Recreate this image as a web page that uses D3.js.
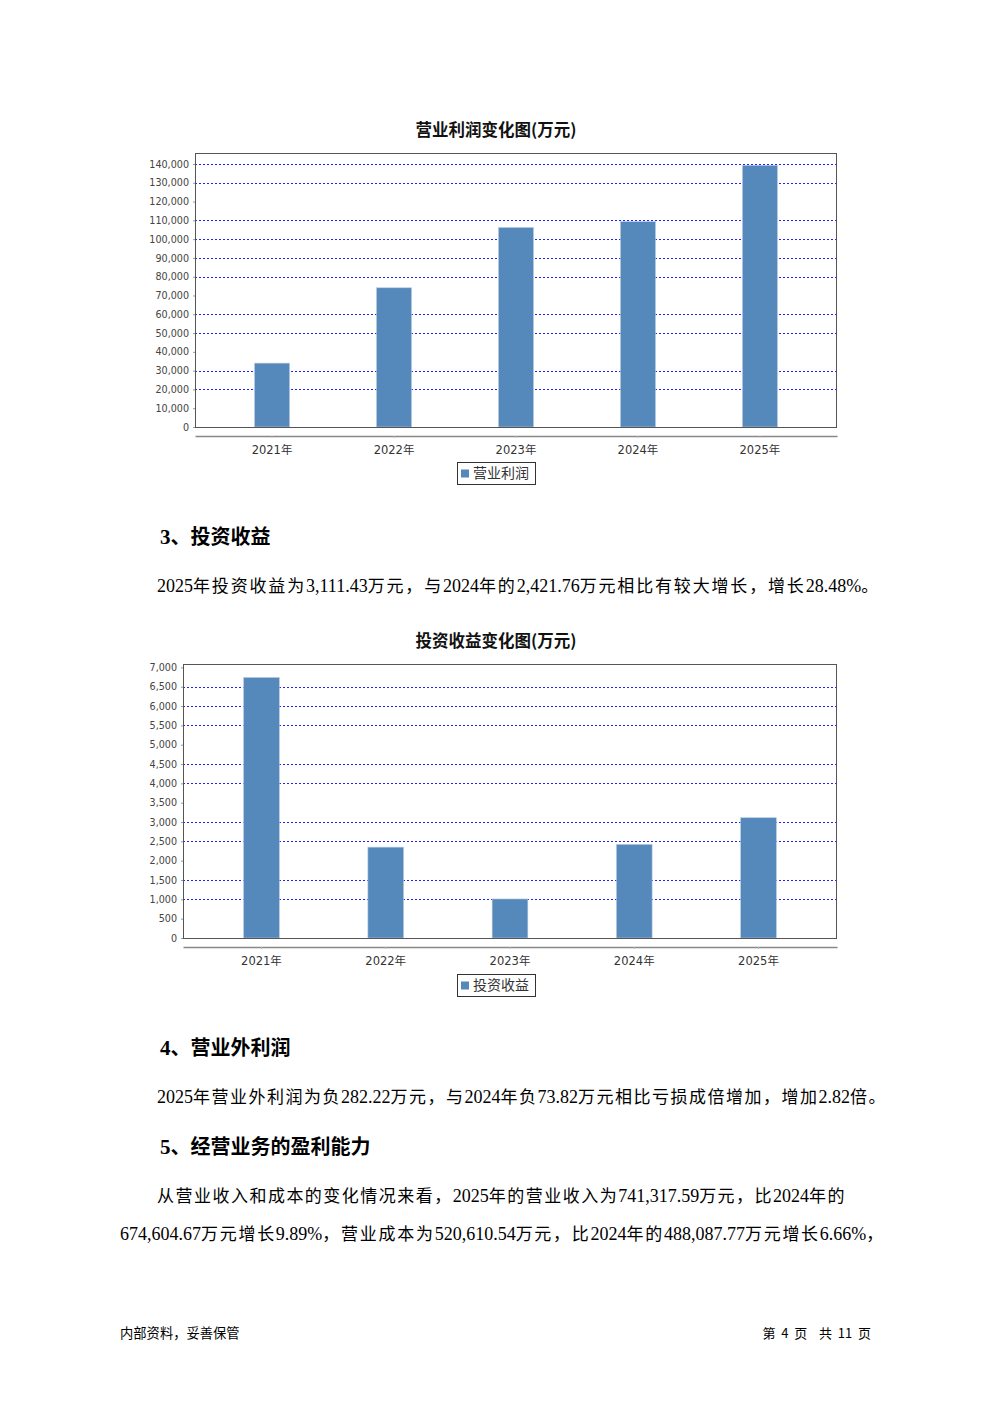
<!DOCTYPE html>
<html><head><meta charset="utf-8">
<script src="https://cdn.jsdelivr.net/npm/d3@7"></script>
<style>
html,body{margin:0;padding:0;background:#fff;}
svg{display:block;}
</style></head>
<body>
<script>
// ---- data ----
const years = ["2021年","2022年","2023年","2024年","2025年"];
const opProfit = [34000, 74100, 106200, 109300, 139300];
const opProfitTicks = d3.range(0, 140001, 10000);
const opProfitGrid = [20000,30000,50000,60000,80000,90000,100000,110000,130000,140000];
const invIncome = [6740, 2350, 1010, 2421.76, 3111.43];
const invIncomeTicks = d3.range(0, 7001, 500);
const invIncomeGrid = [1000,1500,2500,3000,4000,4500,5500,6000,6500];

const W = 992, H = 1403;
const svg = d3.select("body").append("svg").attr("width", W).attr("height", H);
svg.append("rect").attr("width", W).attr("height", H).attr("fill", "#fff");

const CJK = "'Noto Sans CJK SC', sans-serif";
const SERIF = "'Liberation Serif', serif";

function barChart(cfg) {
  const {title, titleY, left, right, top, bottom, axisMax, values, ticks, grid, axisLineY, legend, legendBox} = cfg;
  const g = svg.append("g");
  g.append("text").attr("x", 496).attr("y", titleY).attr("text-anchor", "middle")
    .attr("font-family", CJK).attr("font-weight", "bold").attr("font-size", 16.5).attr("fill", "#111").text(title);

  const y = d3.scaleLinear().domain([0, axisMax]).range([bottom, top]);
  const x = d3.scaleBand().domain(years).range([left, right]).paddingInner(0.7126).paddingOuter(0.488);

  g.selectAll(".grid").data(grid).join("line")
    .attr("x1", left).attr("x2", right)
    .attr("y1", d => Math.round(y(d)) + 0.5).attr("y2", d => Math.round(y(d)) + 0.5)
    .attr("stroke", "#2020ff").attr("stroke-width", 1).attr("stroke-dasharray", "2,2");

  g.selectAll(".bar").data(values).join("rect")
    .attr("x", (d, i) => x(years[i])).attr("width", x.bandwidth())
    .attr("y", d => y(d)).attr("height", d => bottom - y(d))
    .attr("fill", "#5588bb").attr("stroke", "#b9cbe0").attr("stroke-width", 0.6);

  g.append("rect").attr("x", left + 0.5).attr("y", top + 0.5).attr("width", right - left - 1).attr("height", bottom - top)
    .attr("fill", "none").attr("stroke", "#555").attr("stroke-width", 1);

  const ya = d3.axisLeft(y).tickValues(ticks).tickFormat(d3.format(",")).tickSize(2).tickPadding(4);
  const yg = g.append("g").attr("transform", `translate(${left},0)`).call(ya);
  yg.select(".domain").remove();
  yg.selectAll("line").attr("stroke", "#999");
  yg.selectAll("text").attr("font-family", "'DejaVu Sans', sans-serif").attr("font-size", 9.6).attr("fill", "#444");

  const xa = d3.axisBottom(x).tickSize(2).tickSizeOuter(0).tickPadding(8);
  const xg = g.append("g").attr("transform", `translate(0,${axisLineY})`).call(xa);
  xg.select(".domain").attr("stroke", "#888").attr("stroke-width", 1.5);
  xg.selectAll("line").attr("stroke", "#bbb");
  xg.selectAll("text").attr("font-family", "'DejaVu Sans', " + CJK).attr("font-size", 11.5).attr("fill", "#333");

  const lg = g.append("g");
  lg.append("rect").attr("x", legendBox[0] + 0.5).attr("y", legendBox[1] + 0.5).attr("width", legendBox[2]).attr("height", legendBox[3])
    .attr("fill", "#fff").attr("stroke", "#333").attr("stroke-width", 1);
  lg.append("rect").attr("x", legendBox[0] + 4).attr("y", legendBox[1] + legendBox[3] / 2 - 3.5).attr("width", 8).attr("height", 8).attr("fill", "#5588bb");
  lg.append("text").attr("x", legendBox[0] + 16).attr("y", legendBox[1] + legendBox[3] / 2 + 5)
    .attr("font-family", CJK).attr("font-size", 14).attr("fill", "#333").text(legend);
}

barChart({
  title: "营业利润变化图(万元)", titleY: 136,
  left: 195, right: 837, top: 153, bottom: 427, axisMax: 145850,
  values: opProfit, ticks: opProfitTicks, grid: opProfitGrid,
  axisLineY: 436, legend: "营业利润", legendBox: [457, 462, 78, 22]
});
barChart({
  title: "投资收益变化图(万元)", titleY: 647,
  left: 183, right: 837, top: 664, bottom: 938, axisMax: 7088,
  values: invIncome, ticks: invIncomeTicks, grid: invIncomeGrid,
  axisLineY: 947, legend: "投资收益", legendBox: [457, 974, 78, 22]
});

// ---- text blocks ----
const cjkRe = /([\u3000-\u303f\u4e00-\u9fff\uff00-\uffef]+)/;
function richLine(t, x, yy, opts) {
  const {width, bold, cjkSize, latSize, anchor} = opts;
  const el = svg.append("text").attr("x", x).attr("y", yy).attr("fill", "#000")
    .attr("font-weight", bold ? "bold" : "normal");
  if (anchor) el.attr("text-anchor", anchor);
  const parts = t.split(cjkRe).filter(s => s.length);
  let nCjk = 0;
  const cjkSpans = [];
  parts.forEach(p => {
    const m = p.match(cjkRe);
    const isCjk = m && m[0] === p;
    const ts = el.append("tspan").text(p)
      .attr("font-family", isCjk ? CJK : SERIF)
      .attr("font-size", isCjk ? cjkSize : latSize);
    if (isCjk) { nCjk += p.length; cjkSpans.push(ts); }
  });
  if (width) {
    const w0 = el.node().getComputedTextLength();
    const ls = (width - w0) / nCjk;
    cjkSpans.forEach(s => s.style("letter-spacing", ls + "px"));
  }
  return el;
}
richLine("3、投资收益", 160, 544, {bold: true, cjkSize: 20, latSize: 21});
richLine("2025年投资收益为3,111.43万元，与2024年的2,421.76万元相比有较大增长，增长28.48%。", 157, 592, {width: 723, cjkSize: 17, latSize: 18});
richLine("4、营业外利润", 160, 1055, {bold: true, cjkSize: 20, latSize: 21});
richLine("2025年营业外利润为负282.22万元，与2024年负73.82万元相比亏损成倍增加，增加2.82倍。", 157, 1103, {width: 730, cjkSize: 17, latSize: 18});
richLine("5、经营业务的盈利能力", 160, 1154, {bold: true, cjkSize: 20, latSize: 21});
richLine("从营业收入和成本的变化情况来看，2025年的营业收入为741,317.59万元，比2024年的", 157, 1202, {width: 689, cjkSize: 17, latSize: 18});
richLine("674,604.67万元增长9.89%，营业成本为520,610.54万元，比2024年的488,087.77万元增长6.66%，", 120, 1240, {width: 765, cjkSize: 17, latSize: 18});

// footer
svg.append("text").attr("x", 120).attr("y", 1338).attr("font-family", CJK).attr("font-size", 13.3).attr("fill", "#000").text("内部资料，妥善保管");
const nb = "\u00a0";
svg.append("text").attr("x", 871).attr("y", 1338).attr("text-anchor", "end").attr("font-family", CJK).attr("font-size", 13)
  .attr("fill", "#000").text("第" + nb + nb + "4" + nb + nb + "页" + nb + nb + nb + nb + "共" + nb + nb + "11" + nb + nb + "页");
</script>
</body></html>
